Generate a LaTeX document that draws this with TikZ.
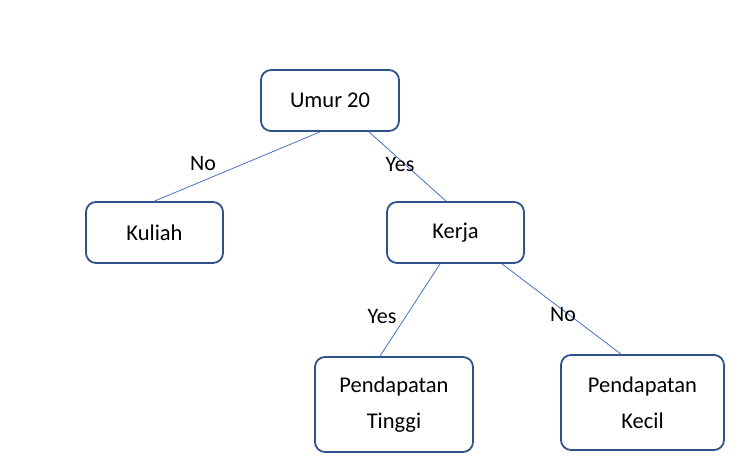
\documentclass[tikz,border=0pt]{standalone}
\usepackage{fontspec}
\setmainfont{Carlito}
\usetikzlibrary{positioning}
\definecolor{boxblue}{HTML}{2F528F}
\definecolor{lineblue}{HTML}{4472C4}
\tikzstyle{box}=[draw=boxblue,line width=1.8pt,rounded corners=10pt,align=center,font=\fontsize{22.5}{36}\selectfont]
\tikzstyle{link}=[draw=lineblue,line width=0.8pt]
\tikzstyle{lbl}=[font=\fontsize{22}{25}\selectfont]

\begin{document}
\begin{tikzpicture}[x=1pt,y=-1pt]
            \useasboundingbox (0,0) rectangle (739,467);
            \node (umur) [box, minimum width=138pt, minimum height=61pt] at (330,100.5) {Umur 20};
            \node (kuliah) [box, minimum width=137pt, minimum height=61pt] at (154.5,232.5) {Kuliah};
            \node (kerja) [box, minimum width=137pt, minimum height=61pt] at (455.5,232.5) {Kerja};
            \node (tinggi) [box, minimum width=158pt, minimum height=95pt] at (394,404.5) {Pendapatan\\Tinggi};
            \node (kecil) [box, minimum width=163pt, minimum height=95pt] at (642.5,402.5) {Pendapatan\\Kecil};

            \path[link] ([xshift=-10pt]umur.south) -- (kuliah.north);
            \path[link] ([xshift=39pt]umur.south) -- ([xshift=-9.5pt]kerja.north);
            \path[link] ([xshift=-15.5pt]kerja.south) -- ([xshift=-14pt]tinggi.north);
            \path[link] ([xshift=46.5pt]kerja.south) -- ([xshift=-21.5pt]kecil.north);

            \node (no1) [lbl] at (203,164) {No};
            \node (yes1) [lbl] at (400,165) {Yes};
            \node (yes2) [lbl] at (382,317) {Yes};
            \node (no2) [lbl] at (563,315) {No};
\end{tikzpicture}
\end{document}
